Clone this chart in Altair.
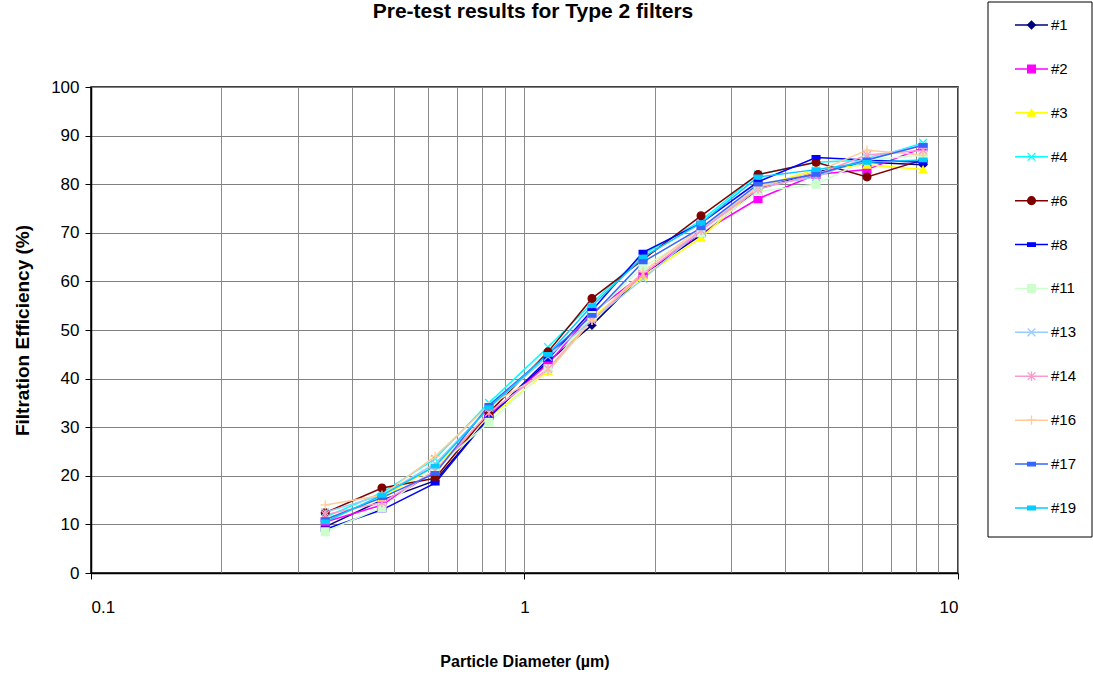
import altair as alt
import pandas as pd

# ---- data ----
diameters = [0.347, 0.469, 0.622, 0.828, 1.133, 1.431, 1.877, 2.554, 3.457, 4.705, 6.167, 8.306]

series_names = ["#1", "#2", "#3", "#4", "#6", "#8", "#11", "#13", "#14", "#16", "#17", "#19"]

s1 = [9.5, 15.0, 19.0, 32.0, 43.5, 51.0, 61.5, 69.5, 79.0, 82.5, 84.5, 84.0]
s2 = [10.5, 14.0, 21.0, 32.5, 43.0, 53.5, 61.5, 70.0, 77.0, 82.0, 83.0, 87.5]
s3 = [11.0, 15.5, 22.0, 32.0, 41.5, 52.5, 61.0, 69.0, 79.5, 83.0, 84.0, 83.0]
s4 = [11.5, 16.5, 23.5, 35.0, 46.5, 55.5, 65.5, 72.5, 82.0, 84.5, 85.0, 88.5]
s6 = [12.4, 17.5, 19.5, 33.0, 45.5, 56.5, 64.5, 73.5, 82.0, 84.5, 81.5, 85.0]
s8 = [9.0, 13.0, 18.5, 32.0, 44.0, 54.0, 66.0, 72.0, 80.5, 85.5, 85.0, 84.5]
s11 = [8.5, 13.5, 21.5, 31.0, 42.0, 53.0, 63.0, 70.0, 78.5, 80.0, 85.0, 86.0]
s13 = [12.5, 16.0, 22.5, 34.0, 44.5, 52.0, 60.5, 70.5, 79.5, 81.5, 85.5, 88.0]
s14 = [12.0, 14.5, 21.0, 33.0, 42.0, 52.0, 61.5, 70.5, 79.0, 82.0, 86.0, 87.0]
s16 = [14.0, 16.0, 24.0, 34.5, 41.5, 52.0, 62.0, 71.0, 79.5, 82.5, 87.0, 86.0]
s17 = [11.0, 15.5, 20.5, 34.5, 45.0, 53.0, 64.0, 71.0, 80.0, 82.0, 85.0, 88.0]
s19 = [10.5, 16.0, 22.0, 34.0, 45.0, 55.0, 65.0, 72.0, 81.5, 83.0, 84.5, 85.0]

all_series = [s1, s2, s3, s4, s6, s8, s11, s13, s14, s16, s17, s19]

series_colors = ["#000080", "#FF00FF", "#FFFF00", "#00FFFF", "#800000", "#0000FF",
                 "#CCFFCC", "#99CCFF", "#FF99CC", "#FFCC99", "#3366FF", "#00CCFF"]

X_PATH = "M-1,-1L1,1M-1,1L1,-1"
STAR_PATH = "M-1,-1L1,1M-1,1L1,-1M0,-1.2L0,1.2"
PLUS_PATH = "M-1.2,0L1.2,0M0,-1.2L0,1.2"
DASH_PATH = "M-1,-0.45L1,-0.45L1,0.45L-1,0.45Z"
series_shapes = ["diamond", "square", "triangle-up", X_PATH, "circle", DASH_PATH,
                 "square", X_PATH, STAR_PATH, PLUS_PATH, DASH_PATH, DASH_PATH]

x_grid_values = [0.1, 0.2, 0.3, 0.4, 0.5, 0.6, 0.7, 0.8, 0.9,
                 1, 2, 3, 4, 5, 6, 7, 8, 9, 10]
y_tick_values = [0, 10, 20, 30, 40, 50, 60, 70, 80, 90, 100]

chart_title = "Pre-test results for Type 2 filters"

rows = []
for name, vals in zip(series_names, all_series):
    for d, v in zip(diameters, vals):
        rows.append({"series": name, "diameter": d, "eff": v})
df = pd.DataFrame(rows)
legend_df = pd.DataFrame({"series": series_names})

FONT = "Liberation Sans"

color_scale = alt.Scale(domain=series_names, range=series_colors)
shape_scale = alt.Scale(domain=series_names, range=series_shapes)

x_enc = alt.X(
    "diameter:Q",
    scale=alt.Scale(type="log", domain=[0.1, 10], nice=False),
    axis=alt.Axis(
        values=x_grid_values,
        labelExpr="datum.value == 0.1 ? '0.1' : datum.value == 1 ? '1' : datum.value == 10 ? '10' : ''",
        labelOverlap=False,
        labelFontSize=17,
        labelPadding=20,
        tickSize=6,
        tickColor={"condition": {"test": "datum.value == 0.1 || datum.value == 1 || datum.value == 10",
                                 "value": "#000000"}, "value": "transparent"},
        title="Particle Diameter (µm)",
        titleFontSize=16,
        titleFontWeight="bold",
        titlePadding=38,
        grid=True,
        gridColor="#8c8c8c",
        gridWidth=1,
        domainColor="#000000",
        domainWidth=1.5,
    ),
)

y_enc = alt.Y(
    "eff:Q",
    scale=alt.Scale(domain=[0, 100], nice=False),
    axis=alt.Axis(
        values=y_tick_values,
        labelFontSize=17,
        labelPadding=6,
        tickSize=6,
        tickColor="#000000",
        title="Filtration Efficiency (%)",
        titleFontSize=19,
        titleFontWeight="bold",
        titlePadding=18,
        grid=True,
        gridColor="#808080",
        gridWidth=1,
        domainColor="#000000",
        domainWidth=1.5,
    ),
)

lines = alt.Chart(df).mark_line(strokeWidth=1.5).encode(
    x=x_enc,
    y=y_enc,
    color=alt.Color("series:N", scale=color_scale, legend=None),
    detail="series:N",
)

points = alt.Chart(df).mark_point(filled=True, size=60, strokeWidth=1.3, opacity=1).encode(
    x="diameter:Q",
    y="eff:Q",
    color=alt.Color("series:N", scale=color_scale, legend=None),
    stroke=alt.Stroke("series:N", scale=color_scale, legend=None),
    shape=alt.Shape("series:N", scale=shape_scale, legend=None),
)

main = alt.layer(lines, points)

# ---- custom legend (Excel-style line + marker) ----
leg_y = alt.Y("series:N", scale=alt.Scale(type="point", domain=series_names, range=[-62, 421], padding=0), axis=None)

legend_box = alt.Chart(pd.DataFrame({"k": [0]})).mark_rect(
    fill="white", stroke="#000000", strokeWidth=1
).encode(x=alt.value(897), x2=alt.value(1001), y=alt.value(-85), y2=alt.value(450))

legend_lines = alt.Chart(legend_df).mark_rule(strokeWidth=1.5).encode(
    x=alt.value(924), x2=alt.value(957), y=leg_y,
    color=alt.Color("series:N", scale=color_scale, legend=None),
)

legend_marks = alt.Chart(legend_df).mark_point(filled=True, size=60, strokeWidth=1.3, opacity=1).encode(
    x=alt.value(940.5), y=leg_y,
    color=alt.Color("series:N", scale=color_scale, legend=None),
    stroke=alt.Stroke("series:N", scale=color_scale, legend=None),
    shape=alt.Shape("series:N", scale=shape_scale, legend=None),
)

legend_text = alt.Chart(legend_df).mark_text(align="left", baseline="middle", fontSize=15, font=FONT, color="#000000").encode(
    x=alt.value(960), y=leg_y, text="series:N",
)

title_text = alt.Chart(pd.DataFrame({"t": [chart_title]})).mark_text(
    align="center", baseline="alphabetic", fontSize=21, fontWeight="bold", font=FONT, color="#000000"
).encode(x=alt.value(442), y=alt.value(-69), text="t:N")

chart = alt.layer(main, legend_box, legend_lines, legend_marks, legend_text, title_text).resolve_scale(
    y="independent"
).properties(
    width=867,
    height=486,
    autosize=alt.AutoSizeParams(type="none"),
    padding={"left": 91, "top": 87, "right": 135, "bottom": 112},
    background="white",
).configure_view(
    stroke="#000000", strokeWidth=1.5
).configure_axis(
    labelFont=FONT, titleFont=FONT, labelColor="#000000", titleColor="#000000"
)

chart.save("out.html", embed_options={"renderer": "svg", "actions": False})
